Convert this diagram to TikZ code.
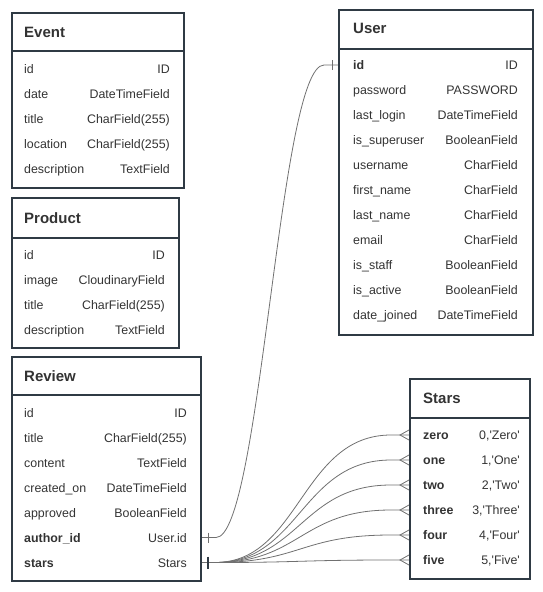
\documentclass[tikz,border=0pt]{standalone}
\usepackage{fontspec}
\setmainfont{Liberation Sans}
\usetikzlibrary{positioning,calc}

\definecolor{boxline}{HTML}{2F3A44}
\definecolor{txtgray}{HTML}{333333}
\definecolor{linkgray}{HTML}{707070}

\begin{document}
\begin{tikzpicture}[x=1pt,y=-1pt,
    tbl/.style={draw=boxline,line width=2pt,anchor=north west,inner sep=0pt},
    hdrline/.style={draw=boxline,line width=2pt},
    ttl/.style={anchor=west,inner sep=0pt,text height=10.8pt,text depth=0pt,text=txtgray,font=\fontsize{15}{18}\selectfont\bfseries},
    fld/.style={anchor=west,inner sep=0pt,text height=9pt,text depth=0pt,text=txtgray,font=\fontsize{12.4}{14}\selectfont},
    fldb/.style={fld,font=\fontsize{12.4}{14}\selectfont\bfseries},
    typ/.style={fld,anchor=east},
    link/.style={draw=linkgray,line width=0.8pt},
    ]
    \useasboundingbox (0,0) rectangle (543,592);

    % Tables
    \node[tbl,minimum width=172pt,minimum height=175pt] (event) at (11,12) {};
    \node[tbl,minimum width=167pt,minimum height=150pt] (product) at (11,197) {};
    \node[tbl,minimum width=189pt,minimum height=224pt] (review) at (11,356) {};
    \node[tbl,minimum width=194pt,minimum height=325pt] (user) at (338,9) {};
    \node[tbl,minimum width=120pt,minimum height=200pt] (stars) at (409,378) {};

    \draw[hdrline] ($(event.north west)+(0,39)$) -- ($(event.north east)+(0,39)$);
    \draw[hdrline] ($(product.north west)+(0,41)$) -- ($(product.north east)+(0,41)$);
    \draw[hdrline] ($(review.north west)+(0,39)$) -- ($(review.north east)+(0,39)$);
    \draw[hdrline] ($(user.north west)+(0,40)$) -- ($(user.north east)+(0,40)$);
    \draw[hdrline] ($(stars.north west)+(0,40)$) -- ($(stars.north east)+(0,40)$);

    % Event
    \node[ttl] (ev-t) at (24,32.3) {Event};
    \foreach \f/\t [count=\i] in {id/ID, date/DateTimeField, title/CharField(255),
        location/CharField(255), description/TextField} {
        \node[fld] (ev-\i) at (24,43.5+25*\i) {\f};
        \node[typ] (ev-\i-t) at (170,43.5+25*\i) {\t};
    }

    % Product
    \node[ttl] (pr-t) at (24,217.7) {Product};
    \foreach \f/\t [count=\i] in {id/ID, image/CloudinaryField, title/CharField(255),
        description/TextField} {
        \node[fld] (pr-\i) at (24,229.5+25*\i) {\f};
        \node[typ] (pr-\i-t) at (165,229.5+25*\i) {\t};
    }

    % Review
    \node[ttl] (rv-t) at (24,375.7) {Review};
    \foreach \f/\t [count=\i] in {id/ID, title/CharField(255), content/TextField,
        created\_on/DateTimeField, approved/BooleanField} {
        \node[fld] (rv-\i) at (24,387.5+25*\i) {\f};
        \node[typ] (rv-\i-t) at (187,387.5+25*\i) {\t};
    }
    \node[fldb] (rv-6) at (24,537.5) {author\_id};
    \node[typ] (rv-6-t) at (187,537.5) {User.id};
    \node[fldb] (rv-7) at (24,562.5) {stars};
    \node[typ] (rv-7-t) at (187,562.5) {Stars};

    % User
    \node[ttl] (us-t) at (353,28.3) {User};
    \node[fldb] (us-1) at (353,65) {id};
    \node[typ] (us-1-t) at (518,65) {ID};
    \foreach \f/\t [count=\i from 2] in {password/PASSWORD, last\_login/DateTimeField,
        is\_superuser/BooleanField, username/CharField, first\_name/CharField,
        last\_name/CharField, email/CharField, is\_staff/BooleanField,
        is\_active/BooleanField, date\_joined/DateTimeField} {
        \node[fld] (us-\i) at (353,40+25*\i) {\f};
        \node[typ] (us-\i-t) at (518,40+25*\i) {\t};
    }

    % Stars
    \node[ttl] (st-t) at (423,398.3) {Stars};
    \foreach \f/\n/\t [count=\i] in {zero/0/Zero, one/1/One, two/2/Two,
        three/3/Three, four/4/Four, five/5/Five} {
        \node[fldb] (st-\i) at (423,410+25*\i) {\f};
        \node[typ] (st-\i-t) at (520,410+25*\i) {\n,\textquotesingle\t\textquotesingle};
    }

    % Review.author_id -> User.id
    \draw[link] (review.east |- rv-6) -- ++(14,0)
        .. controls +(45,0) and +(-45,0) .. ($(user.west |- us-1)+(-14,0)$)
        -- (user.west |- us-1);
    \draw[link] ($(review.east |- rv-6)+(6,-5)$) -- ++(0,10);
    \draw[link] ($(user.west |- us-1)+(-6,-5)$) -- ++(0,10);

    % Review.stars -> Stars
    \foreach \k in {1,...,6} {
        \draw[link] (review.east |- rv-7) -- ++(13,0)
            .. controls +(85,0) and +(-90,0) .. ($(stars.west |- st-\k)+(-18,0)$)
            -- (stars.west |- st-\k);
        \draw[link] ($(stars.west |- st-\k)+(0,-5)$) -- ++(-9,5) -- ++(9,5);
    }
    \draw[link,draw=boxline,line width=1.4pt] ($(review.east |- rv-7)+(6,-6)$) -- ++(0,12);
\end{tikzpicture}
\end{document}
